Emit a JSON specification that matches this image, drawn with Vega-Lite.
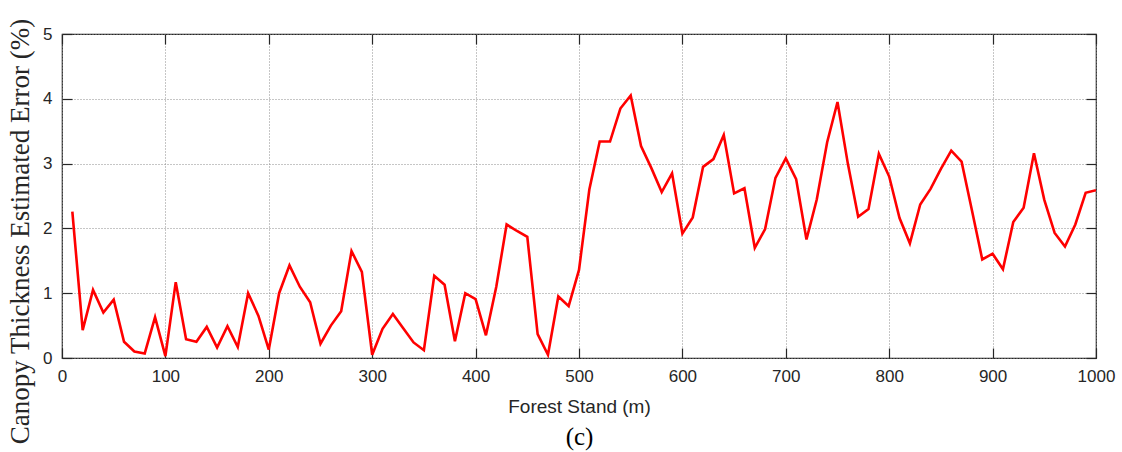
{
  "$schema": "https://vega.github.io/schema/vega-lite/v6.json",
  "autosize": "none",
  "width": 1034,
  "height": 324,
  "padding": {"left": 62, "top": 34, "right": 26, "bottom": 94},
  "background": "white",
  "config": {
    "view": {"stroke": "#262626", "strokeWidth": 1.2},
    "axis": {
      "labelFont": "Liberation Sans",
      "labelFontSize": 17,
      "labelColor": "#262626",
      "labelFlush": false,
      "domain": false,
      "tickColor": "#262626",
      "tickSize": -10,
      "tickWidth": 1.2,
      "gridColor": "#8c8c8c",
      "gridDash": [1, 2],
      "gridWidth": 1
    }
  },
  "data": {
    "values": [
      {"x": 10, "y": 2.26}, {"x": 20, "y": 0.43}, {"x": 30, "y": 1.05}, {"x": 40, "y": 0.70}, {"x": 50, "y": 0.90},
      {"x": 60, "y": 0.25}, {"x": 70, "y": 0.10}, {"x": 80, "y": 0.07}, {"x": 90, "y": 0.63}, {"x": 100, "y": 0.03},
      {"x": 110, "y": 1.17}, {"x": 120, "y": 0.29}, {"x": 130, "y": 0.25}, {"x": 140, "y": 0.48}, {"x": 150, "y": 0.16},
      {"x": 160, "y": 0.49}, {"x": 170, "y": 0.17}, {"x": 180, "y": 1.00}, {"x": 190, "y": 0.65}, {"x": 200, "y": 0.13},
      {"x": 210, "y": 1.00}, {"x": 220, "y": 1.43}, {"x": 230, "y": 1.10}, {"x": 240, "y": 0.86}, {"x": 250, "y": 0.22},
      {"x": 260, "y": 0.50}, {"x": 270, "y": 0.72}, {"x": 280, "y": 1.65}, {"x": 290, "y": 1.33}, {"x": 300, "y": 0.05},
      {"x": 310, "y": 0.45}, {"x": 320, "y": 0.68}, {"x": 330, "y": 0.46}, {"x": 340, "y": 0.24}, {"x": 350, "y": 0.12},
      {"x": 360, "y": 1.27}, {"x": 370, "y": 1.13}, {"x": 380, "y": 0.26}, {"x": 390, "y": 1.00}, {"x": 400, "y": 0.91},
      {"x": 410, "y": 0.35}, {"x": 420, "y": 1.10}, {"x": 430, "y": 2.06}, {"x": 440, "y": 1.96}, {"x": 450, "y": 1.87},
      {"x": 460, "y": 0.37}, {"x": 470, "y": 0.05}, {"x": 480, "y": 0.95}, {"x": 490, "y": 0.80}, {"x": 500, "y": 1.36},
      {"x": 510, "y": 2.60}, {"x": 520, "y": 3.34}, {"x": 530, "y": 3.34}, {"x": 540, "y": 3.85}, {"x": 550, "y": 4.05},
      {"x": 560, "y": 3.27}, {"x": 570, "y": 2.93}, {"x": 580, "y": 2.56}, {"x": 590, "y": 2.85}, {"x": 600, "y": 1.92},
      {"x": 610, "y": 2.17}, {"x": 620, "y": 2.95}, {"x": 630, "y": 3.07}, {"x": 640, "y": 3.44}, {"x": 650, "y": 2.54},
      {"x": 660, "y": 2.62}, {"x": 670, "y": 1.70}, {"x": 680, "y": 1.99}, {"x": 690, "y": 2.78}, {"x": 700, "y": 3.08},
      {"x": 710, "y": 2.76}, {"x": 720, "y": 1.83}, {"x": 730, "y": 2.45}, {"x": 740, "y": 3.33}, {"x": 750, "y": 3.95},
      {"x": 760, "y": 3.00}, {"x": 770, "y": 2.18}, {"x": 780, "y": 2.30}, {"x": 790, "y": 3.15}, {"x": 800, "y": 2.80},
      {"x": 810, "y": 2.16}, {"x": 820, "y": 1.77}, {"x": 830, "y": 2.37}, {"x": 840, "y": 2.61}, {"x": 850, "y": 2.92},
      {"x": 860, "y": 3.20}, {"x": 870, "y": 3.03}, {"x": 880, "y": 2.28}, {"x": 890, "y": 1.52}, {"x": 900, "y": 1.61},
      {"x": 910, "y": 1.37}, {"x": 920, "y": 2.10}, {"x": 930, "y": 2.32}, {"x": 940, "y": 3.16}, {"x": 950, "y": 2.44},
      {"x": 960, "y": 1.93}, {"x": 970, "y": 1.72}, {"x": 980, "y": 2.06}, {"x": 990, "y": 2.55}, {"x": 1000, "y": 2.59}
    ]
  },
  "layer": [
    {
      "mark": {"type": "line", "color": "#ff0000", "strokeWidth": 2.6, "clip": true},
      "encoding": {
        "x": {
          "field": "x", "type": "quantitative",
          "scale": {"domain": [0, 1000], "nice": false, "zero": false},
          "axis": {
            "orient": "bottom",
            "values": [0, 100, 200, 300, 400, 500, 600, 700, 800, 900, 1000],
            "format": "d",
            "grid": true,
            "labelPadding": 20,
            "title": "Forest Stand (m)",
            "titleFont": "Liberation Sans",
            "titleFontSize": 19,
            "titleFontWeight": "normal",
            "titleColor": "#262626",
            "titlePadding": 13
          }
        },
        "y": {
          "field": "y", "type": "quantitative",
          "scale": {"domain": [0, 5], "nice": false},
          "axis": {
            "orient": "left",
            "values": [0, 1, 2, 3, 4, 5],
            "format": "d",
            "grid": true,
            "labelPadding": 20,
            "title": "Canopy Thickness Estimated Error (%)",
            "titleFont": "Liberation Serif",
            "titleFontSize": 27,
            "titleFontWeight": "normal",
            "titleColor": "#262626",
            "titleAngle": -90,
            "titleX": -34,
            "titleY": 197,
            "titleAlign": "center",
            "titleBaseline": "alphabetic"
          }
        }
      }
    },
    {
      "mark": {"type": "line", "opacity": 0},
      "encoding": {
        "x": {
          "field": "x", "type": "quantitative",
          "scale": {"domain": [0, 1000], "nice": false, "zero": false},
          "axis": {"orient": "top", "values": [0, 100, 200, 300, 400, 500, 600, 700, 800, 900, 1000], "labels": false, "grid": false, "title": null}
        },
        "y": {
          "field": "y", "type": "quantitative",
          "scale": {"domain": [0, 5], "nice": false},
          "axis": {"orient": "right", "values": [0, 1, 2, 3, 4, 5], "labels": false, "grid": false, "title": null}
        }
      }
    },
    {
      "mark": {"type": "line", "opacity": 0},
      "encoding": {
        "x": {
          "field": "x", "type": "quantitative",
          "scale": {"domain": [0, 1000], "nice": false, "zero": false},
          "axis": {
            "orient": "bottom",
            "labels": false,
            "ticks": false,
            "grid": false,
            "domain": false,
            "title": "(c)",
            "titleFont": "Liberation Serif",
            "titleFontSize": 25,
            "titleFontWeight": "normal",
            "titleColor": "#000000",
            "titleBaseline": "middle",
            "titlePadding": 78
          }
        }
      }
    }
  ],
  "resolve": {"axis": {"x": "independent", "y": "independent"}}
}
